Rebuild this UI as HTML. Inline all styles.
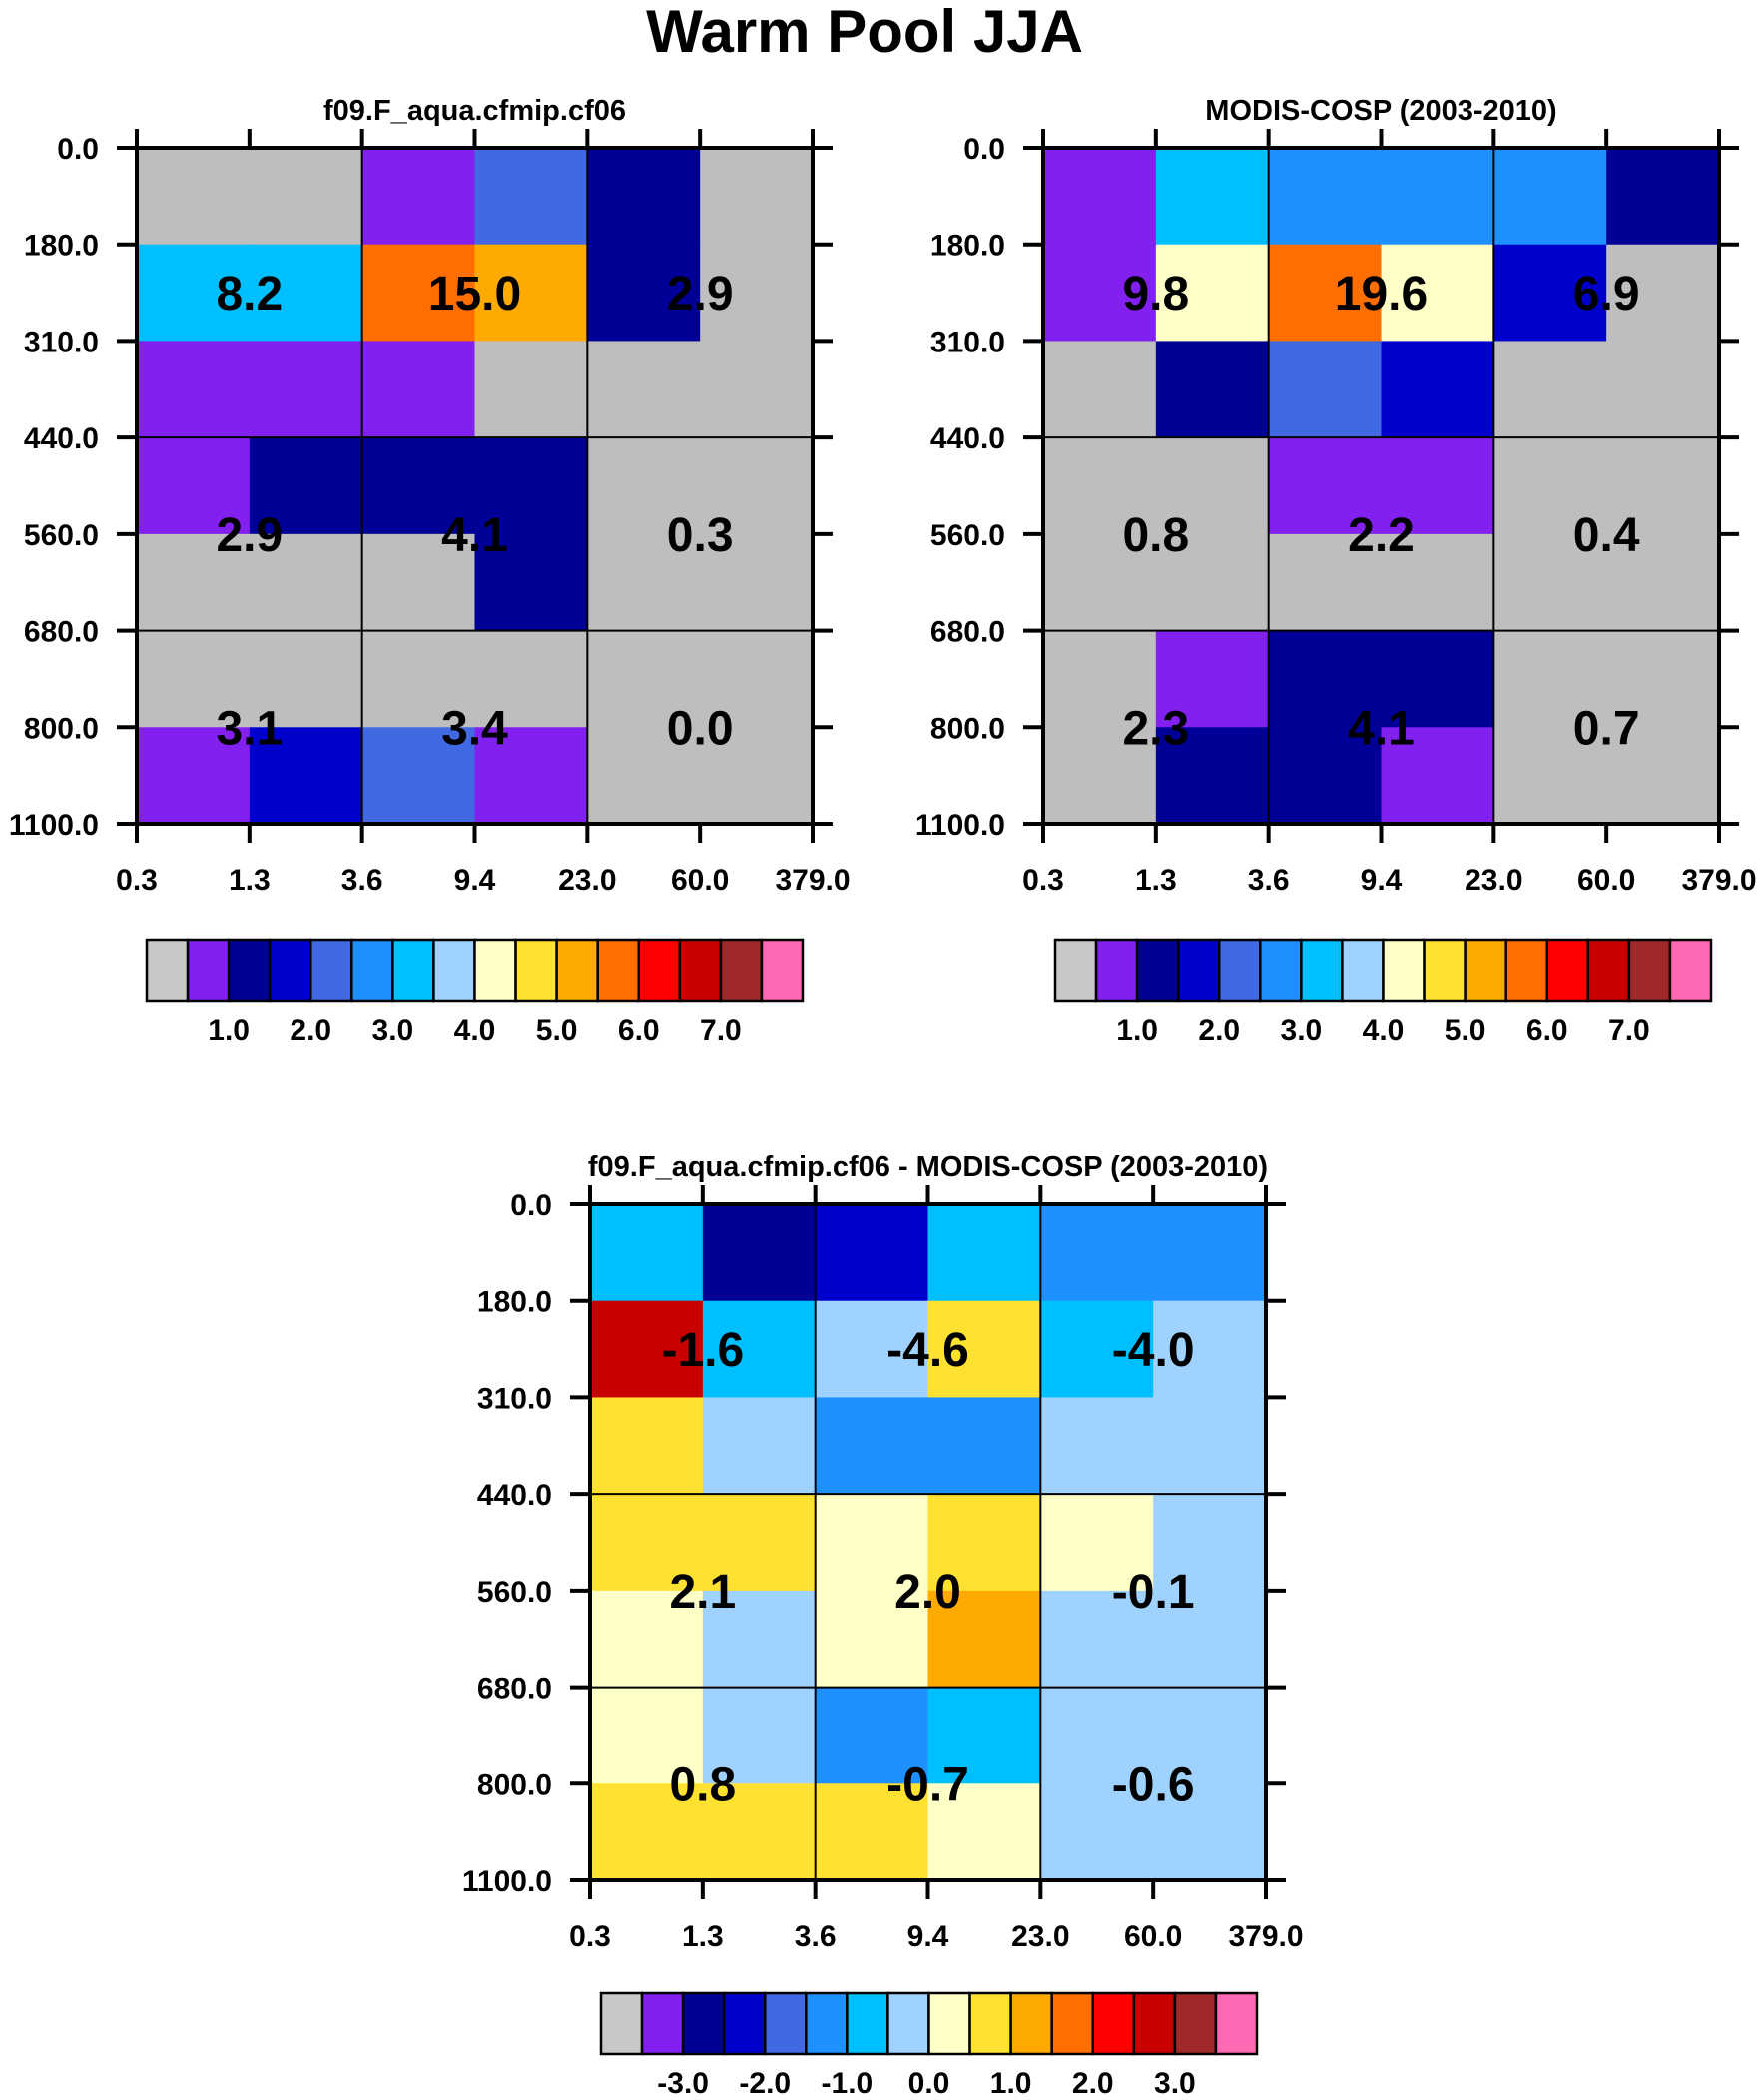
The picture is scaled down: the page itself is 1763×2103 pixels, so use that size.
<!DOCTYPE html>
<html><head><meta charset="utf-8"><style>
html,body{margin:0;padding:0;background:#fff;}
svg{display:block;font-family:"Liberation Sans",Arial,sans-serif;font-weight:bold;}
</style></head><body>
<svg id="fig" width="1763" height="2103" viewBox="0 0 1763 2103" xmlns="http://www.w3.org/2000/svg">
<text x="866" y="52" font-size="60" text-anchor="middle">Warm Pool JJA</text>
</svg>
<script>
const xTickLabels = ["0.3","1.3","3.6","9.4","23.0","60.0","379.0"];
const yTickLabels = ["0.0","180.0","310.0","440.0","560.0","680.0","800.0","1100.0"];
const colors = ["#bebebe","#8220f0","#000096","#0000cd","#4169e1","#1e90ff","#00bfff","#a0d2ff","#ffffc8","#ffe132","#ffaa00","#ff6e00","#ff0000","#c80000","#a02828","#ff69b4"];
const levelsAbs = [0.5,1.0,1.5,2.0,2.5,3.0,3.5,4.0,4.5,5.0,5.5,6.0,6.5,7.0,7.5];
const levelsDiff = [-3.5,-3.0,-2.5,-2.0,-1.5,-1.0,-0.5,0.0,0.5,1.0,1.5,2.0,2.5,3.0,3.5];
const cbLabelsAbs = ["1.0","2.0","3.0","4.0","5.0","6.0","7.0"];
const cbLabelsDiff = ["-3.0","-2.0","-1.0","0.0","1.0","2.0","3.0"];
const modelValues = [
 [0.2,0.2,0.75,2.25,1.25,0.2],
 [3.25,3.25,5.75,5.25,1.25,0.2],
 [0.75,0.75,0.75,0.2,0.2,0.2],
 [0.75,1.25,1.25,1.25,0.2,0.2],
 [0.2,0.2,0.2,1.25,0.2,0.2],
 [0.2,0.2,0.2,0.2,0.2,0.2],
 [0.75,1.75,2.25,0.75,0.2,0.2]];
const obsValues = [
 [0.75,3.25,2.75,2.75,2.75,1.25],
 [0.75,4.25,5.75,4.25,1.75,0.2],
 [0.2,1.25,2.25,1.75,0.2,0.2],
 [0.2,0.2,0.75,0.75,0.2,0.2],
 [0.2,0.2,0.2,0.2,0.2,0.2],
 [0.2,0.75,1.25,1.25,0.2,0.2],
 [0.2,1.25,1.25,0.75,0.2,0.2]];
const diffValues = [
 [-0.75,-2.75,-2.25,-0.75,-1.25,-1.25],
 [2.75,-0.75,-0.25,0.75,-0.75,-0.25],
 [0.75,-0.25,-1.25,-1.25,-0.25,-0.25],
 [0.75,0.75,0.25,0.75,0.25,-0.25],
 [0.25,-0.25,0.25,1.25,-0.25,-0.25],
 [0.25,-0.25,-1.25,-0.75,-0.25,-0.25],
 [0.75,0.75,0.75,0.25,-0.25,-0.25]];
const modelTotals = [["8.2","15.0","2.9"],["2.9","4.1","0.3"],["3.1","3.4","0.0"]];
const obsTotals = [["9.8","19.6","6.9"],["0.8","2.2","0.4"],["2.3","4.1","0.7"]];
const diffTotals = [["-1.6","-4.6","-4.0"],["2.1","2.0","-0.1"],["0.8","-0.7","-0.6"]];

const NS="http://www.w3.org/2000/svg";
const svg=document.getElementById('fig');
function mk(tag,attrs,parent){const e=document.createElementNS(NS,tag);for(const k in attrs)e.setAttribute(k,attrs[k]);(parent||svg).appendChild(e);return e;}
function colorIndex(v,levels){let i=0;for(const l of levels){if(v>=l)i++;}return i;}

function panel(name,title,L,T,values,levels,totals,cbX,cbY,cbLabels){
  const W=677,H=677;
  const g=mk('g',{});
  
  
  const nC=values[0].length,nR=values.length;
  const xS=i=>L+i*W/nC, yS=j=>T+j*H/nR;
  for(let r=0;r<nR;r++)for(let c=0;c<nC;c++){
    const rc=mk('rect',{x:xS(c),y:yS(r),width:W/nC+0.5,height:H/nR+0.5,fill:colors[colorIndex(values[r][c],levels)]},g);
    
    
  }
  [2,4].forEach(c=>{const l=mk('line',{x1:xS(c),x2:xS(c),y1:T,y2:T+H,stroke:'#000','stroke-width':2},g);});
  [3,5].forEach(r=>{const l=mk('line',{x1:L,x2:L+W,y1:yS(r),y2:yS(r),stroke:'#000','stroke-width':2},g);});
  const fr=mk('rect',{x:L,y:T,width:W,height:H,fill:'none',stroke:'#000','stroke-width':4},g);
  
  xTickLabels.forEach((t,i)=>{
    const x=xS(i);
    mk('line',{x1:x,x2:x,y1:T,y2:T-19,stroke:'#000','stroke-width':4},g);
    mk('line',{x1:x,x2:x,y1:T+H,y2:T+H+19,stroke:'#000','stroke-width':4},g);
    const tx=mk('text',{x:x,y:T+H+66,'font-size':30,'text-anchor':'middle'},g);tx.textContent=t;
    
  });
  yTickLabels.forEach((t,j)=>{
    const y=yS(j);
    mk('line',{x1:L,x2:L-20,y1:y,y2:y,stroke:'#000','stroke-width':4},g);
    mk('line',{x1:L+W,x2:L+W+20,y1:y,y2:y,stroke:'#000','stroke-width':4},g);
    const tx=mk('text',{x:L-38,y:y+11,'font-size':30,'text-anchor':'end'},g);tx.textContent=t;
    
  });
  const rowCenters=[1.5,4,6];
  totals.forEach((row,rr)=>row.forEach((t,cc)=>{
    const tx=mk('text',{x:xS(cc*2+1),y:yS(rowCenters[rr])+17,'font-size':48,'text-anchor':'middle'},g);tx.textContent=t;
    
  }));
  const tt=mk('text',{x:L+W/2,y:T-28,'font-size':29,'text-anchor':'middle'},g);tt.textContent=title;
  
  const cb=mk('g',{},g);
  
  const bw=657/colors.length,bh=61;
  colors.forEach((col,i)=>{
    const b=mk('rect',{x:cbX+i*bw,y:cbY,width:bw,height:bh,fill:i==0?'#c8c8c8':col,stroke:'#000','stroke-width':2.5},cb);
    
  });
  cbLabels.forEach((t,i)=>{
    const tx=mk('text',{x:cbX+(2+2*i)*bw,y:cbY+bh+39,'font-size':30,'text-anchor':'middle'},cb);tx.textContent=t;
    
  });
}
panel('model-panel','f09.F_aqua.cfmip.cf06',137,148,modelValues,levelsAbs,modelTotals,147,941,cbLabelsAbs);
panel('obs-panel','MODIS-COSP (2003-2010)',1045,148,obsValues,levelsAbs,obsTotals,1057,941,cbLabelsAbs);
panel('diff-panel','f09.F_aqua.cfmip.cf06 - MODIS-COSP (2003-2010)',591,1206,diffValues,levelsDiff,diffTotals,602,1996,cbLabelsDiff);
</script>
</body></html>
